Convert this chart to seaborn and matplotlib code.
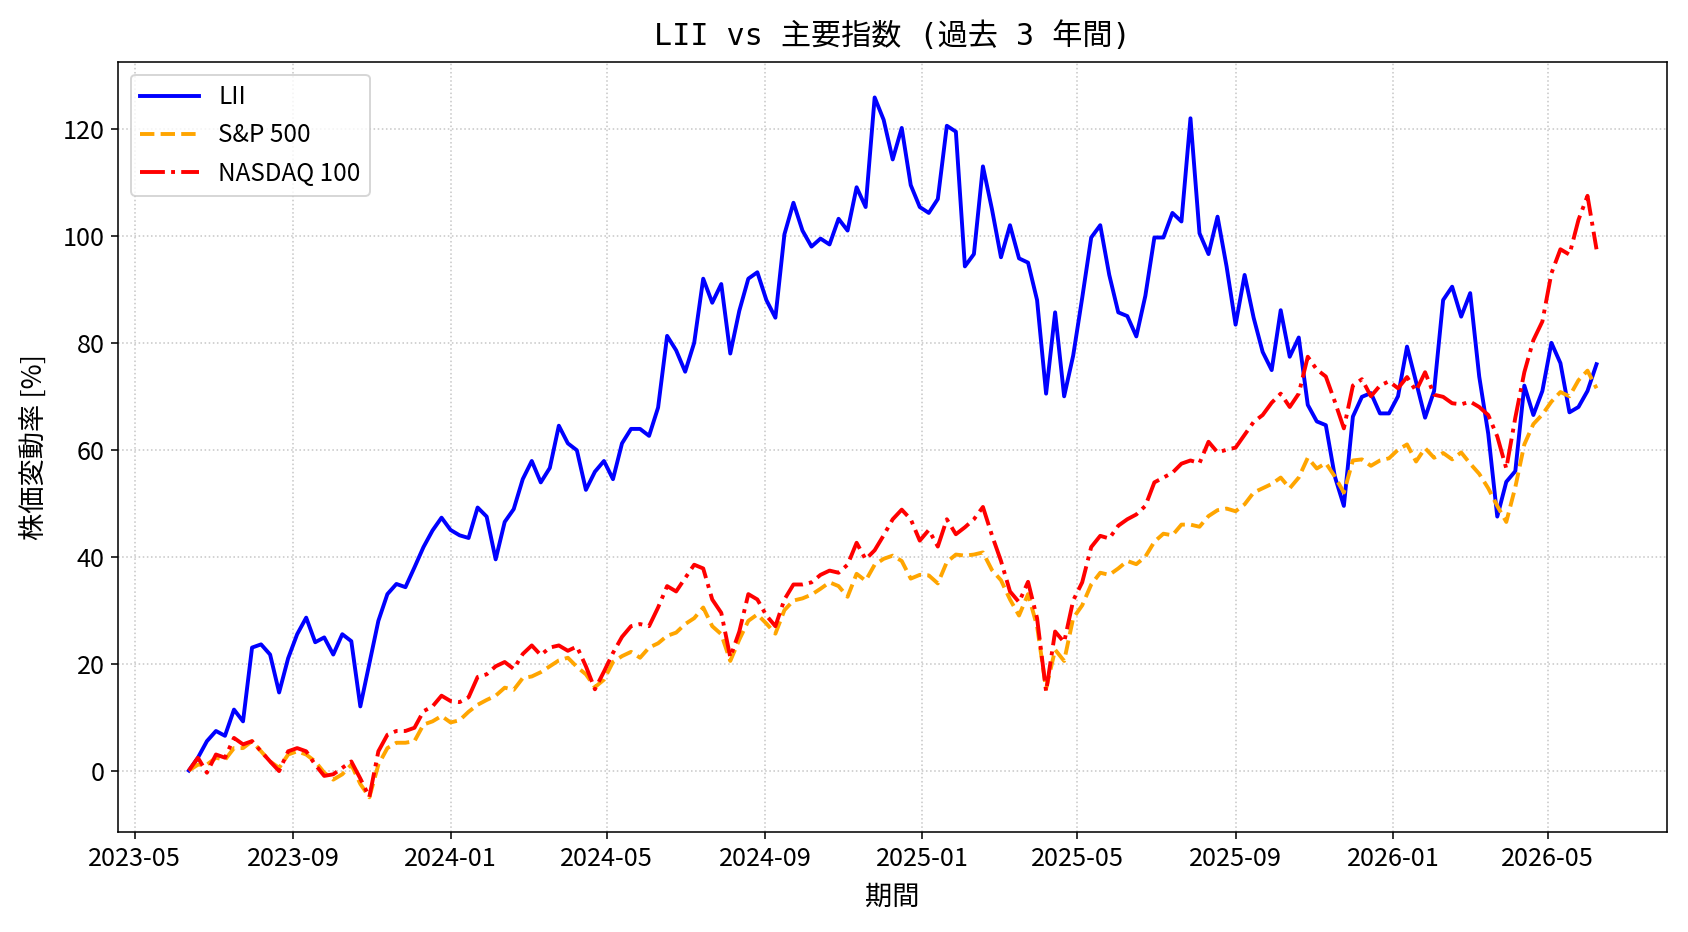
import pandas as pd
import matplotlib
matplotlib.use("Agg")
import matplotlib.pyplot as plt
import matplotlib.dates as mdates
import seaborn as sns

# フォント (日本語)
plt.rcParams["font.family"] = ["Noto Sans CJK JP", "DejaVu Sans"]

# ---- データ (週次, 2023-06-12 起点, 変動率 %) ----
start_date = "2023-06-12"
n_weeks = 157

lii = [
    0, 2.4, 5.5, 7.4, 6.5, 11.4, 9.2, 23, 23.6, 21.7,
    14.6, 21, 25.5, 28.6, 24, 24.9, 21.7, 25.5, 24.2, 12,
    20, 28, 33, 34.9, 34.3, 38, 41.8, 44.9, 47.3, 45,
    44, 43.5, 49.2, 47.5, 39.5, 46.5, 48.9, 54.5, 57.9, 53.9,
    56.6, 64.5, 61.2, 59.9, 52.5, 55.9, 57.9, 54.5, 61.2, 63.9,
    63.9, 62.6, 67.9, 81.3, 78.6, 74.6, 80, 92, 87.5, 91,
    78, 86, 92, 93.2, 88, 84.7, 100.3, 106.2, 101, 98,
    99.5, 98.4, 103.2, 101, 109.1, 105.4, 125.9, 121.7, 114.3, 120.2,
    109.5, 105.4, 104.3, 106.9, 120.6, 119.5, 94.3, 96.6, 113, 105,
    96, 102, 95.8, 95, 88, 70.5, 85.7, 70, 77.6, 88.4,
    99.7, 102, 92.7, 85.7, 85, 81.2, 88.8, 99.7, 99.7, 104.3,
    102.7, 122, 100.5, 96.6, 103.6, 94.3, 83.4, 92.7, 84.7, 78.3,
    74.9, 86.1, 77.4, 81, 68.4, 65.3, 64.6, 55, 49.5, 66.2,
    69.9, 70.6, 66.8, 66.8, 70, 79.3, 72.7, 66, 71, 88,
    90.5, 84.9, 89.3, 73.7, 63, 47.5, 54, 56, 72, 66.5,
    71, 80, 76.2, 67, 68, 71, 76,
]

sp500 = [
    0, 1.1, 1.1, 2.4, 2, 4.2, 4.2, 5.5, 3.6, 1.7,
    0.5, 3, 3.6, 3, 1.7, -0.4, -1.7, -0.7, 1.1, -2.5,
    -5, 1.1, 4.2, 5.2, 5.2, 5.5, 8.6, 9.2, 10.2, 9,
    9.4, 11, 12.3, 13.2, 14, 15.5, 15.1, 17.3, 17.6, 18.4,
    19.5, 20.6, 21.1, 19.4, 18, 15.6, 17, 20.3, 21.4, 22.2,
    21.1, 23, 23.8, 25.2, 25.8, 27.4, 28.5, 30.5, 27, 25.5,
    20.5, 24.5, 28, 29.2, 27.5, 25.6, 30, 31.8, 32.2, 32.9,
    34, 35.2, 34.5, 32.5, 36.8, 35.5, 38.5, 39.6, 40.2, 39.2,
    35.9, 36.6, 36.5, 35, 39, 40.4, 40.2, 40.4, 40.8, 37.5,
    35.6, 32, 29, 33, 27, 15.3, 22.6, 20.5, 28.5, 30.9,
    34.8, 37, 36.6, 37.8, 39.2, 38.6, 40, 42.8, 44.3, 44,
    46, 46, 45.6, 47.6, 48.7, 49, 48.5, 49.8, 52, 52.8,
    53.6, 54.8, 52.8, 54.8, 58.5, 56.5, 57.5, 55, 52, 58,
    58.2, 57, 58, 58.4, 60, 61, 57.8, 60.3, 58.5, 59.4,
    58.2, 59.5, 57.4, 55.5, 52.8, 49.5, 46.5, 53, 61, 64.8,
    66.6, 69, 70.8, 70, 73, 74.8, 71.5,
]

nasdaq100 = [
    0, 2.4, -0.4, 3, 2.4, 6.1, 4.9, 5.5, 3.6, 1.7,
    -0.1, 3.6, 4.2, 3.6, 1.1, -1, -0.7, 0.5, 1.7, -1.5,
    -4.95, 3.6, 6.7, 7.4, 7.4, 8, 11.1, 12, 14, 13,
    12.8, 13.7, 17.5, 18, 19.5, 20.3, 19, 21.8, 23.4, 21.6,
    23, 23.4, 22.4, 23.2, 19.5, 15.2, 18.5, 22, 25, 27,
    27.4, 27, 30.5, 34.5, 33.5, 36, 38.5, 37.8, 32, 29.5,
    21.2, 26, 33, 32, 29, 27, 32, 34.8, 34.8, 35.2,
    36.6, 37.4, 37, 38.5, 42.6, 39.5, 41.2, 44, 47, 48.8,
    47, 43, 45, 41.9, 47, 44.2, 45.5, 47, 49.3, 44,
    39.2, 33.5, 31.5, 35.3, 28.5, 14.8, 26, 24, 31.8, 35.2,
    41.8, 43.9, 43.4, 45.8, 47, 47.9, 49.5, 53.9, 54.8, 55.7,
    57.4, 58, 57.5, 61.5, 59.5, 60, 60.4, 62.8, 65.2, 66.5,
    68.8, 70.5, 68, 70.5, 77.4, 75, 73.7, 69, 64, 72,
    73.2, 70, 72, 72.8, 71.5, 73.6, 71, 74.5, 70.3, 69.9,
    68.7, 68.5, 69, 68, 66.5, 62.5, 56.5, 66, 74.5, 80.5,
    84, 93, 97.5, 96.5, 103, 107.5, 97.5,
]

dates = pd.date_range(start_date, periods=n_weeks, freq="7D")
df = pd.DataFrame({"date": dates, "LII": lii, "S&P 500": sp500, "NASDAQ 100": nasdaq100})

# ---- 描画 ----
fig, ax = plt.subplots(figsize=(1688 / 140, 932 / 140), dpi=140)
fig.subplots_adjust(left=0.0702, right=0.9875, top=0.933, bottom=0.107)

sns.lineplot(data=df, x="date", y="LII", ax=ax, color="blue", linestyle="-", linewidth=2, label="LII")
sns.lineplot(data=df, x="date", y="S&P 500", ax=ax, color="orange", linestyle="--", linewidth=2, label="S&P 500")
sns.lineplot(data=df, x="date", y="NASDAQ 100", ax=ax, color="red", linestyle="-.", linewidth=2, label="NASDAQ 100")

# タイトルは等幅の英数字で
ax.set_title("LII vs 主要指数 (過去 3 年間)", fontsize=15.5, pad=9,
             family=["DejaVu Sans Mono", "Noto Sans CJK JP"])
ax.set_xlabel("期間", fontsize=14, labelpad=6)
ax.set_ylabel("株価変動率 [%]", fontsize=14, labelpad=8)

ax.xaxis.set_major_locator(mdates.MonthLocator(bymonth=[1, 5, 9]))
ax.xaxis.set_major_formatter(mdates.DateFormatter("%Y-%m"))
ax.tick_params(axis="both", labelsize=13)
ax.grid(True, linestyle=":", alpha=0.7)
ax.legend(loc="upper left", fontsize=12.5, handlelength=2.4)

plt.savefig("out.png", dpi=140)
plt.close()
